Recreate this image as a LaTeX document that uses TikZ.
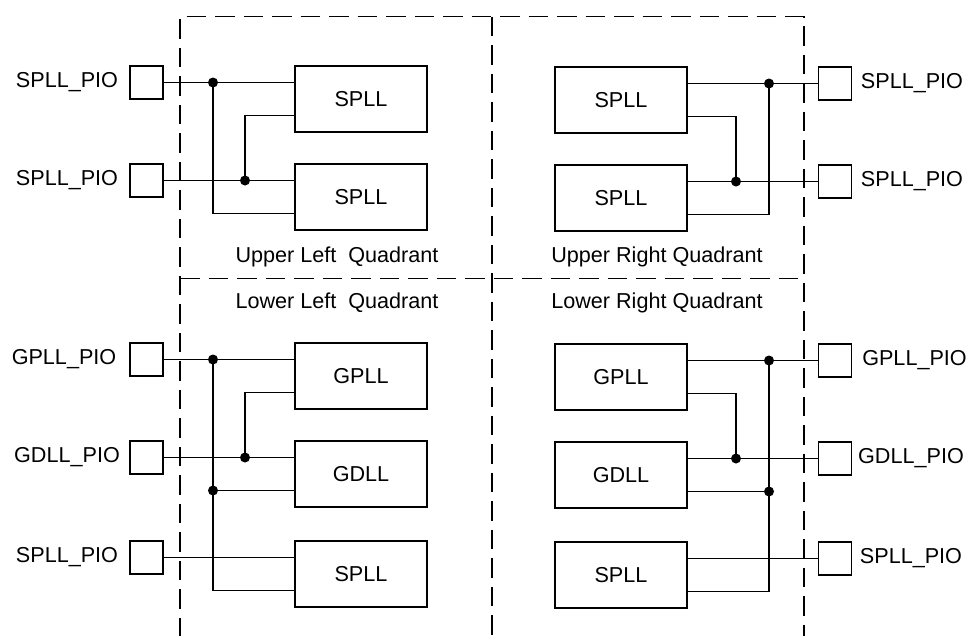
\documentclass[tikz,border=0pt]{standalone}
\usepackage{fontspec}
\setmainfont{Liberation Sans}
\usetikzlibrary{calc}
\begin{document}
\begin{tikzpicture}[x=1pt,y=-1pt,
  every node/.style={font=\fontsize{21.6}{26}\selectfont},
  wire/.style={line width=1.3pt},
  pio/.style={draw,line width=1.3pt,minimum width=33pt,minimum height=33pt,inner sep=0pt},
  pll/.style={draw,line width=1.3pt,minimum width=132pt,minimum height=66pt,inner sep=0pt},
  quad/.style={draw,line width=1.3pt,dash pattern=on 19.5pt off 9pt},
  lbl/.style={inner sep=0pt}]
\useasboundingbox (0,0) rectangle (968,635);

% quadrant frames
\coordinate (q1) at (180,16.5);
\coordinate (q2) at (804,16.5);
\coordinate (q3) at (492,16.5);
\coordinate (q4) at (180,278.5);
\coordinate (q5) at (804,278.5);
\draw[quad] (180,637) -- (q1) -- (q2) -- (804,637);
\draw[quad] (q3) -- (492,637);
\draw[quad] (q4) -- (q5);

\node at (337,257) {Upper Left\ \ Quadrant};
\node at (657,257) {Upper Right Quadrant};
\node at (337,303) {Lower Left\ \ Quadrant};
\node at (657,303) {Lower Right Quadrant};

% ---------- Upper left ----------
\node[pio] (ulp1) at (146.5,82.5) {};
\node[pio] (ulp2) at (146.5,180.5) {};
\node[lbl] (ull1) at (67,82.5) {SPLL\_PIO};
\node[lbl] (ull2) at (67,180.5) {SPLL\_PIO};
\node[pll] (ulb1) at (361,99) {SPLL};
\node[pll] (ulb2) at (361,197) {SPLL};
\coordinate (ulj1) at (213,82.5);
\coordinate (ulj2) at (245,180.5);
\draw[wire] (ulp1.east) -- (ulp1.east -| ulb1.west);
\draw[wire] (ulp2.east) -- (ulp2.east -| ulb2.west);
\draw[wire] (ulj1) |- ($(ulb2.west)+(0,16.5)$);
\draw[wire] ($(ulb1.west)+(0,16.5)$) -| (ulj2);
\fill (ulj1) circle[radius=5pt];
\fill (ulj2) circle[radius=5pt];

% ---------- Upper right ----------
\node[pio] (urp1) at (835,83.5) {};
\node[pio] (urp2) at (835,181.5) {};
\node[lbl] (url1) at (912,83.5) {SPLL\_PIO};
\node[lbl] (url2) at (912,181.5) {SPLL\_PIO};
\node[pll] (urb1) at (621,100) {SPLL};
\node[pll] (urb2) at (621,198) {SPLL};
\coordinate (urj1) at (769,83.5);
\coordinate (urj2) at (736,181.5);
\draw[wire] (urp1.west) -- (urp1.west -| urb1.east);
\draw[wire] (urp2.west) -- (urp2.west -| urb2.east);
\draw[wire] (urj1) |- ($(urb2.east)+(0,16.5)$);
\draw[wire] ($(urb1.east)+(0,16.5)$) -| (urj2);
\fill (urj1) circle[radius=5pt];
\fill (urj2) circle[radius=5pt];

% ---------- Lower left ----------
\node[pio] (llp1) at (146.5,359.5) {};
\node[pio] (llp2) at (146.5,457.5) {};
\node[pio] (llp3) at (146.5,557.5) {};
\node[lbl] (lll1) at (64,359.5) {GPLL\_PIO};
\node[lbl] (lll2) at (67,457.5) {GDLL\_PIO};
\node[lbl] (lll3) at (67,557.5) {SPLL\_PIO};
\node[pll] (llb1) at (361,376) {GPLL};
\node[pll] (llb2) at (361,474) {GDLL};
\node[pll] (llb3) at (361,574) {SPLL};
\coordinate (llj1) at (213,359.5);
\coordinate (llj2) at (245,457.5);
\coordinate (llj3) at (213,490.5);
\draw[wire] (llp1.east) -- (llp1.east -| llb1.west);
\draw[wire] (llp2.east) -- (llp2.east -| llb2.west);
\draw[wire] (llp3.east) -- (llp3.east -| llb3.west);
\draw[wire] (llj1) |- ($(llb3.west)+(0,16.5)$);
\draw[wire] (llj3) -- ($(llb2.west)+(0,16.5)$);
\draw[wire] ($(llb1.west)+(0,16.5)$) -| (llj2);
\fill (llj1) circle[radius=5pt];
\fill (llj2) circle[radius=5pt];
\fill (llj3) circle[radius=5pt];

% ---------- Lower right ----------
\node[pio] (lrp1) at (835,360.5) {};
\node[pio] (lrp2) at (835,458.5) {};
\node[pio] (lrp3) at (835,558.5) {};
\node[lbl] (lrl1) at (914.5,360.5) {GPLL\_PIO};
\node[lbl] (lrl2) at (911,458.5) {GDLL\_PIO};
\node[lbl] (lrl3) at (911,558.5) {SPLL\_PIO};
\node[pll] (lrb1) at (621,377) {GPLL};
\node[pll] (lrb2) at (621,475) {GDLL};
\node[pll] (lrb3) at (621,575) {SPLL};
\coordinate (lrj1) at (769,360.5);
\coordinate (lrj2) at (736,458.5);
\coordinate (lrj3) at (769,491.5);
\draw[wire] (lrp1.west) -- (lrp1.west -| lrb1.east);
\draw[wire] (lrp2.west) -- (lrp2.west -| lrb2.east);
\draw[wire] (lrp3.west) -- (lrp3.west -| lrb3.east);
\draw[wire] (lrj1) |- ($(lrb3.east)+(0,16.5)$);
\draw[wire] (lrj3) -- ($(lrb2.east)+(0,16.5)$);
\draw[wire] ($(lrb1.east)+(0,16.5)$) -| (lrj2);
\fill (lrj1) circle[radius=5pt];
\fill (lrj2) circle[radius=5pt];
\fill (lrj3) circle[radius=5pt];
\end{tikzpicture}
\end{document}
